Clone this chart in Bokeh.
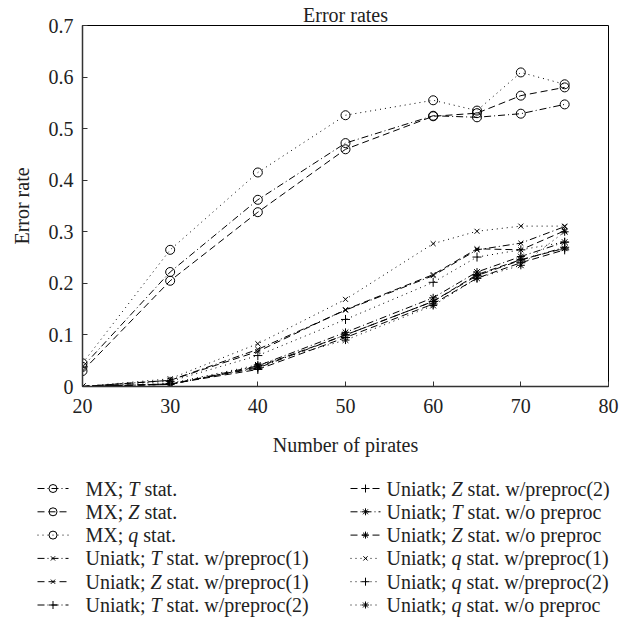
from bokeh.plotting import figure
from bokeh.layouts import column
from bokeh.models import Range1d, FixedTicker, ColumnDataSource
from bokeh.core.properties import value
from bokeh.embed import file_html
from bokeh.resources import INLINE

# ---- data ----
pirates = [20, 30, 40, 50, 60, 65, 70, 75]
mx_T = [0.038, 0.222, 0.362, 0.472, 0.525, 0.522, 0.529, 0.547]
mx_Z = [0.030, 0.205, 0.338, 0.460, 0.524, 0.530, 0.564, 0.580]
mx_q = [0.045, 0.265, 0.415, 0.526, 0.555, 0.535, 0.609, 0.586]
uni_T_pre1 = [0.0, 0.012, 0.072, 0.148, 0.215, 0.265, 0.278, 0.310]
uni_Z_pre1 = [0.0, 0.012, 0.068, 0.149, 0.217, 0.267, 0.265, 0.302]
uni_T_pre2 = [0.0, 0.005, 0.036, 0.100, 0.165, 0.215, 0.245, 0.270]
uni_Z_pre2 = [0.0, 0.005, 0.033, 0.095, 0.160, 0.210, 0.240, 0.265]
uni_T_wo = [0.0, 0.004, 0.040, 0.105, 0.172, 0.222, 0.252, 0.280]
uni_Z_wo = [0.0, 0.004, 0.038, 0.100, 0.165, 0.217, 0.246, 0.268]
uni_q_pre1 = [0.0, 0.015, 0.083, 0.169, 0.277, 0.301, 0.311, 0.311]
uni_q_pre2 = [0.0, 0.010, 0.060, 0.130, 0.202, 0.251, 0.265, 0.280]
uni_q_wo = [0.0, 0.006, 0.042, 0.090, 0.157, 0.210, 0.235, 0.300]

x_ticks = [20, 30, 40, 50, 60, 70, 80]
y_ticks = [0, 0.1, 0.2, 0.3, 0.4, 0.5, 0.6, 0.7]
title_text = "Error rates"

DASHDOT = "7 3 1 3"
DASHED = "7 4"
DOTTED = "1 4"

series = [
    (("MX;", "T", "stat."), mx_T, DASHDOT, "circle"),
    (("MX;", "Z", "stat."), mx_Z, DASHED, "circle"),
    (("MX;", "q", "stat."), mx_q, DOTTED, "circle"),
    (("Uniatk;", "T", "stat. w/preproc(1)"), uni_T_pre1, DASHDOT, "x"),
    (("Uniatk;", "Z", "stat. w/preproc(1)"), uni_Z_pre1, DASHED, "x"),
    (("Uniatk;", "T", "stat. w/preproc(2)"), uni_T_pre2, DASHDOT, "cross"),
    (("Uniatk;", "Z", "stat. w/preproc(2)"), uni_Z_pre2, DASHED, "cross"),
    (("Uniatk;", "T", "stat. w/o preproc"), uni_T_wo, DASHDOT, "asterisk"),
    (("Uniatk;", "Z", "stat. w/o preproc"), uni_Z_wo, DASHED, "asterisk"),
    (("Uniatk;", "q", "stat. w/preproc(1)"), uni_q_pre1, DOTTED, "x"),
    (("Uniatk;", "q", "stat. w/preproc(2)"), uni_q_pre2, DOTTED, "cross"),
    (("Uniatk;", "q", "stat. w/o preproc"), uni_q_wo, DOTTED, "asterisk"),
]
marker_size = {"circle": 9, "x": 7, "cross": 9, "asterisk": 8}

FONT = "Liberation Serif"
FS = "20px"

# ---- main plot ----
p = figure(width=639, height=460, output_backend="svg", toolbar_location=None,
           x_range=Range1d(20, 80), y_range=Range1d(0, 0.7),
           title=title_text,
           min_border_left=82, min_border_right=31, min_border_top=25,
           min_border_bottom=74)
p.title.text_font = FONT
p.title.text_font_size = FS
p.title.text_font_style = "normal"
p.title.text_color = "#222222"
p.title.align = "center"
p.title.standoff = 0
p.title.offset = 0
p.outline_line_color = "black"
p.outline_line_width = 1
p.xgrid.visible = False
p.ygrid.visible = False

p.xaxis.ticker = FixedTicker(ticks=x_ticks)
p.yaxis.ticker = FixedTicker(ticks=y_ticks)
p.yaxis.major_label_overrides = {0: "0"}
p.xaxis.axis_label = "Number of pirates"
p.yaxis.axis_label = "Error rate"
for ax in (p.xaxis, p.yaxis):
    ax.major_tick_in = 5
    ax.major_tick_out = 0
    ax.minor_tick_in = 0
    ax.minor_tick_out = 0
    ax.axis_line_color = "#333333"
    ax.axis_line_width = 1.5
    ax.major_tick_line_color = "#333333"
    ax.major_label_text_font = FONT
    ax.major_label_text_font_size = FS
    ax.major_label_text_color = "#222222"
    ax.axis_label_text_font = FONT
    ax.axis_label_text_font_size = FS
    ax.axis_label_text_font_style = "normal"
    ax.axis_label_text_color = "#222222"
p.xaxis.major_label_standoff = 12
p.yaxis.major_label_standoff = 9
p.xaxis.axis_label_standoff = 18
p.yaxis.axis_label_standoff = 13

for parts, vals, dash, marker in series:
    src = ColumnDataSource(dict(x=pirates, y=vals))
    p.line("x", "y", source=src, line_color="black", line_width=1, line_dash=dash)
    p.scatter("x", "y", source=src, marker=marker, size=marker_size[marker],
              fill_color=None, line_color="black", line_width=1)

# ---- legend figure ----
lg = figure(width=639, height=176, output_backend="svg", toolbar_location=None,
            x_range=Range1d(0, 639), y_range=Range1d(176, 0),
            x_axis_location=None, y_axis_location=None,
            min_border=0, min_border_left=0, min_border_right=0,
            min_border_top=0, min_border_bottom=0)
lg.grid.visible = False
lg.outline_line_color = None
for fig in (p, lg):
    try:
        fig.frame_align = False
    except Exception:
        pass

col_x = [(37, 68, 85), (350, 380, 386)]
row_y = [28 + 23.3 * k for k in range(6)]
prefix_w = {"MX;": 42.8, "Uniatk;": 65.0}
ital_w = {"T": 11.1, "Z": 11.1, "q": 10.0}

tx, ty, tt, toff, tstyle = [], [], [], [], []
for i, (parts, vals, dash, marker) in enumerate(series):
    c = i // 6
    r = i % 6
    x0, x1, xt = col_x[c]
    y = row_y[r]
    lg.line([x0, x1], [y, y], line_color="black", line_width=1, line_dash=dash)
    lg.scatter([(x0 + x1) / 2], [y], marker=marker, size=marker_size[marker] - 1,
               fill_color=None, line_color="black", line_width=1)
    pre, it, rest = parts
    pw = prefix_w[pre]
    for s, off, st in ((pre, 0, "normal"), (it, pw, "italic"),
                       (rest, pw + ital_w[it] + 5, "normal")):
        tx.append(xt)
        ty.append(y)
        tt.append(s)
        toff.append(off)
        tstyle.append(st)

tsrc = ColumnDataSource(dict(x=tx, y=ty, text=tt, off=toff, style=tstyle))
lg.text("x", "y", text="text", x_offset="off", source=tsrc,
        text_font=value(FONT), text_font_size=FS, text_font_style="style",
        text_baseline="middle", text_align="left", text_color="#222222")

layout = column(p, lg, spacing=0)
open("out.html", "w").write(file_html(layout, INLINE))
